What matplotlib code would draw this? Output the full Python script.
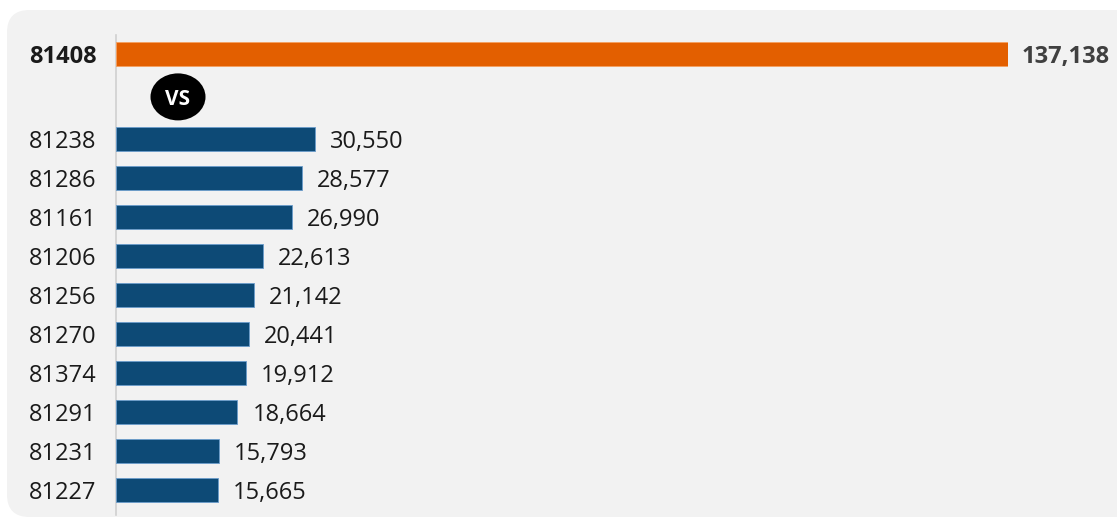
import matplotlib
matplotlib.use("Agg")
import matplotlib.pyplot as plt
from matplotlib.patches import FancyBboxPatch, Ellipse

# data
top_label = "81408"
top_value = 137138
categories = ["81238", "81286", "81161", "81206", "81256", "81270", "81374", "81291", "81231", "81227"]
values = [30550, 28577, 26990, 22613, 21142, 20441, 19912, 18664, 15793, 15665]

W, H = 1117, 519
fig = plt.figure(figsize=(W / 100, H / 100), dpi=100)
fig.patch.set_facecolor("white")

# background panel
bg = FancyBboxPatch((7 / W, 1 - 517 / H), 1.2, (517 - 10) / H,
                    boxstyle="round,pad=0,rounding_size=0.02",
                    transform=fig.transFigure, facecolor="#f2f2f2",
                    edgecolor="none", zorder=-10, mutation_aspect=W / H)
fig.patches.append(bg)

ax_left, ax_right = 116, 1008
ax_top, ax_bot = 35, 515
ax = fig.add_axes([ax_left / W, 1 - ax_bot / H, (ax_right - ax_left) / W, (ax_bot - ax_top) / H])
ax.set_facecolor("none")
ax.set_zorder(5)

font = "Open Sans"
blue = "#0d4a76"
orange = "#e35f00"
fs = 17

ypos = list(range(len(categories)))
top_y = -2.18
bh = 0.62

ax.barh(ypos, values, height=bh, color=blue, edgecolor="#6a9ccc", linewidth=0.6, zorder=3)
ax.barh([top_y], [top_value], height=bh, color=orange, edgecolor="#f5a060", linewidth=0.6, zorder=3)

ax.set_xlim(0, top_value)
ax.set_ylim(9.64, -2.667)

ax.set_yticks([top_y] + ypos)
ax.set_yticklabels([top_label] + categories, fontfamily=font, fontsize=fs, color="#1a1a1a",
                   va="center_baseline")
ax.get_yticklabels()[0].set_fontweight("bold")
ax.tick_params(axis="y", length=0, pad=14)
ax.set_xticks([])

for s in ["top", "right", "bottom"]:
    ax.spines[s].set_visible(False)
ax.spines["left"].set_color("#d0d0d0")
ax.spines["left"].set_linewidth(1.2)

px = top_value / (ax_right - ax_left)
for y, v in zip(ypos, values):
    ax.text(v + 15 * px, y, f"{v:,}", va="center_baseline", ha="left", fontfamily=font,
            fontsize=fs, color="#1a1a1a", clip_on=False)
ax.text(top_value + 14 * px, top_y, f"{top_value:,}", va="center_baseline", ha="left",
        fontfamily=font, fontsize=fs, fontweight="bold", color="#404040", clip_on=False)

# VS badge
ax.add_patch(Ellipse((62 * px, -1.08), 55 * px, 47 / 39, facecolor="black",
                     edgecolor="none", zorder=4, clip_on=False))
ax.text(62 * px, -1.08, "VS", ha="center", va="center_baseline", color="white",
        fontfamily=font, fontsize=15, fontweight="bold", zorder=5)

fig.savefig("out.png", dpi=100, facecolor=fig.get_facecolor())
